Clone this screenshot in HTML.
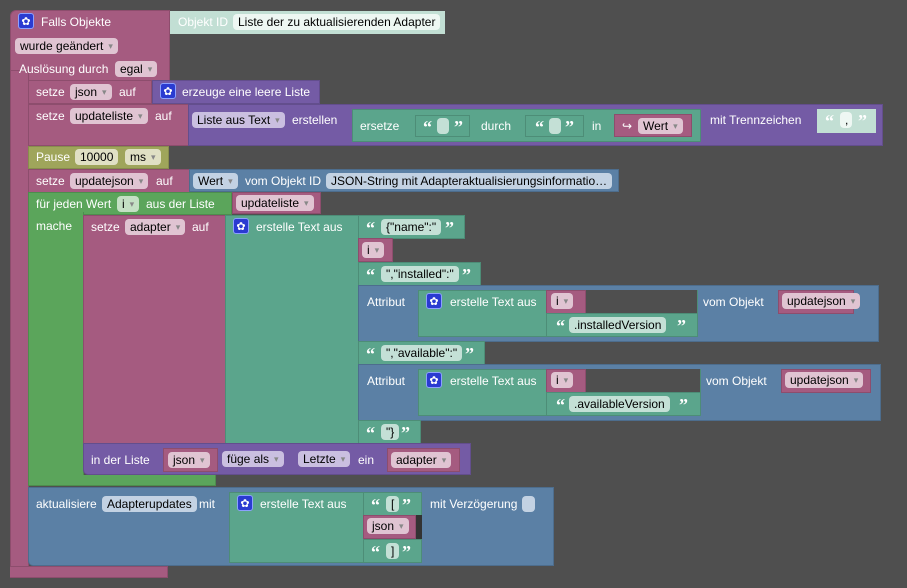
<!DOCTYPE html><html><head><meta charset="utf-8"><style>
body{margin:0;width:907px;height:588px;background:#4f4f4f;position:relative;overflow:hidden;font-family:"Liberation Sans",sans-serif;font-size:12px}
div{position:absolute;box-sizing:border-box}
.m{background:#a55b80;border:1px solid #8d4d6d}
.p{background:#745ba5;border:1px solid #634e8d}
.t{background:#5ba58c;border:1px solid #4d8d77}
.u{background:#5b80a5;border:1px solid #4d6d8d}
.g{background:#5ba55b;border:1px solid #4d8d4d}
.o{background:#9fa55b;border:1px solid #888d4d}
.d{background:#4f4f4f}
.x{color:#fff;white-space:nowrap;line-height:14px;border:none}
.f{color:#000;white-space:nowrap;line-height:16px;height:16px;border-radius:4px;padding:0 5px;border:none}
.fm{background:#e0c4d2}.fp{background:#cabfe0}.ft{background:#c4e0d6}.fu{background:#c3d2e3}.fg{background:#c4e0c4}.fo{background:#e0e0c4}
.ar:after{content:"  ▾";font-size:9px;color:#888;vertical-align:1px;white-space:pre}
.ic{width:16px;height:16px;background:#2a3bd1;border-radius:3px;color:#fff;font-size:11px;line-height:16px;text-align:center;border:1px solid #8ca0ff}
.q{color:#fff;font-weight:bold;font-family:"Liberation Serif",serif;font-size:18px;line-height:16px;border:none}
</style></head><body>
<!-- main event block -->
<div class="m" style="left:10px;top:10px;width:160px;height:71px;border-radius:6px 0 0 0"></div>
<div class="m" style="left:10px;top:70px;width:19px;height:507px;border-radius:0 0 0 6px"></div>
<div class="m" style="left:10px;top:566px;width:158px;height:12px;border-left:none"></div>
<div class="ic" style="left:18px;top:13px">✿</div>
<div class="x" style="left:41px;top:15px">Falls Objekte</div>
<div style="left:170px;top:11px;width:275px;height:23px;background:#c2dfd4"></div>
<div class="x" style="left:178px;top:15px">Objekt ID</div>
<div class="f" style="left:233px;top:14px;background:#eef7f3">Liste der zu aktualisierenden Adapter</div>
<div class="f fm ar" style="left:15px;top:38px">wurde geändert</div>
<div class="x" style="left:19px;top:62px">Auslösung durch</div>
<div class="f fm ar" style="left:115px;top:61px">egal</div>
<!-- setze json -->
<div class="m" style="left:28px;top:80px;width:124px;height:24px"></div>
<div class="x" style="left:36px;top:85px">setze</div>
<div class="f fm ar" style="left:70px;top:84px">json</div>
<div class="x" style="left:119px;top:85px">auf</div>
<div class="p" style="left:152px;top:80px;width:168px;height:24px"></div>
<div class="ic" style="left:160px;top:83px">✿</div>
<div class="x" style="left:182px;top:85px">erzeuge eine leere Liste</div>
<!-- setze updateliste -->
<div class="m" style="left:28px;top:104px;width:162px;height:42px"></div>
<div class="x" style="left:36px;top:109px">setze</div>
<div class="f fm ar" style="left:70px;top:108px">updateliste</div>
<div class="x" style="left:155px;top:109px">auf</div>
<div class="p" style="left:188px;top:104px;width:695px;height:42px"></div>
<div class="f fp ar" style="left:192px;top:112px">Liste aus Text</div>
<div class="x" style="left:292px;top:113px">erstellen</div>
<div class="t" style="left:352px;top:109px;width:349px;height:33px"></div>
<div class="x" style="left:360px;top:119px">ersetze</div>
<div class="t" style="left:415px;top:115px;width:55px;height:22px"></div>
<div class="q" style="left:423px;top:119px">“</div><div class="f ft" style="left:437px;top:118px;width:12px"></div><div class="q" style="left:454px;top:119px">”</div>
<div class="x" style="left:481px;top:119px">durch</div>
<div class="t" style="left:525px;top:115px;width:59px;height:22px"></div>
<div class="q" style="left:535px;top:119px">“</div><div class="f ft" style="left:549px;top:118px;width:12px"></div><div class="q" style="left:565px;top:119px">”</div>
<div class="x" style="left:592px;top:119px">in</div>
<div class="m" style="left:614px;top:114px;width:78px;height:23px"></div>
<div class="x" style="left:622px;top:119px">↪</div>
<div class="f fm ar" style="left:638px;top:118px">Wert</div>
<div class="x" style="left:710px;top:113px">mit Trennzeichen</div>
<div style="left:817px;top:109px;width:59px;height:24px;background:#c2dfd4"></div>
<div class="q" style="left:825px;top:113px">“</div><div class="f" style="left:840px;top:112px;width:12px;background:#eef7f3">,</div><div class="q" style="left:858px;top:113px">”</div>
<!-- pause -->
<div class="o" style="left:28px;top:146px;width:141px;height:23px"></div>
<div class="x" style="left:36px;top:150px">Pause</div>
<div class="f fo" style="left:75px;top:149px">10000</div>
<div class="f fo ar" style="left:125px;top:149px">ms</div>
<!-- setze updatejson -->
<div class="m" style="left:28px;top:169px;width:163px;height:24px"></div>
<div class="x" style="left:36px;top:174px">setze</div>
<div class="f fm ar" style="left:70px;top:173px">updatejson</div>
<div class="x" style="left:156px;top:174px">auf</div>
<div class="u" style="left:189px;top:169px;width:430px;height:23px"></div>
<div class="f fu ar" style="left:193px;top:173px">Wert</div>
<div class="x" style="left:245px;top:174px">vom Objekt ID</div>
<div class="f fu" style="left:326px;top:173px">JSON-String mit Adapteraktualisierungsinformatio…</div>
<!-- for each -->
<div class="g" style="left:28px;top:192px;width:204px;height:23px"></div>
<div class="g" style="left:28px;top:212px;width:56px;height:274px;border-top:none"></div>
<div class="g" style="left:28px;top:475px;width:188px;height:11px;border-top:none"></div>
<div class="x" style="left:36px;top:197px">für jeden Wert</div>
<div class="f fg ar" style="left:117px;top:196px">i</div>
<div class="x" style="left:146px;top:197px">aus der Liste</div>
<div class="m" style="left:232px;top:192px;width:89px;height:22px"></div>
<div class="f fm ar" style="left:236px;top:195px">updateliste</div>
<div class="x" style="left:36px;top:219px">mache</div>
<!-- setze adapter -->
<div class="m" style="left:83px;top:215px;width:143px;height:229px"></div>
<div class="x" style="left:91px;top:220px">setze</div>
<div class="f fm ar" style="left:125px;top:219px">adapter</div>
<div class="x" style="left:192px;top:220px">auf</div>
<div class="t" style="left:225px;top:215px;width:134px;height:229px"></div>
<div class="ic" style="left:233px;top:218px">✿</div>
<div class="x" style="left:256px;top:220px">erstelle Text aus</div>
<div class="t" style="left:358px;top:215px;width:107px;height:24px"></div>
<div class="q" style="left:366px;top:220px">“</div><div class="f ft" style="left:381px;top:219px">{"name":"</div><div class="q" style="left:445px;top:220px">”</div>
<div class="m" style="left:358px;top:238px;width:35px;height:24px"></div>
<div class="f fm ar" style="left:362px;top:242px">i</div>
<div class="t" style="left:358px;top:262px;width:123px;height:24px"></div>
<div class="q" style="left:366px;top:267px">“</div><div class="f ft" style="left:381px;top:266px">","installed":"</div><div class="q" style="left:462px;top:267px">”</div>
<div class="u" style="left:358px;top:285px;width:521px;height:57px"></div>
<div class="x" style="left:367px;top:295px">Attribut</div>
<div class="t" style="left:418px;top:290px;width:280px;height:47px"></div>
<div class="ic" style="left:426px;top:293px">✿</div>
<div class="x" style="left:450px;top:295px">erstelle Text aus</div>
<div class="d" style="left:585px;top:290px;width:112px;height:23px"></div>
<div class="m" style="left:546px;top:290px;width:40px;height:24px"></div>
<div class="f fm ar" style="left:551px;top:293px">i</div>
<div class="t" style="left:546px;top:313px;width:152px;height:24px"></div>
<div class="q" style="left:556px;top:318px">“</div><div class="f ft" style="left:569px;top:317px">.installedVersion</div><div class="q" style="left:677px;top:318px">”</div>
<div class="x" style="left:703px;top:295px">vom Objekt</div>
<div class="m" style="left:778px;top:290px;width:76px;height:24px"></div>
<div class="f fm ar" style="left:782px;top:293px">updatejson</div>
<div class="t" style="left:358px;top:341px;width:127px;height:24px"></div>
<div class="q" style="left:366px;top:346px">“</div><div class="f ft" style="left:381px;top:345px">","available":"</div><div class="q" style="left:465px;top:346px">”</div>
<div class="u" style="left:358px;top:364px;width:523px;height:57px"></div>
<div class="x" style="left:367px;top:374px">Attribut</div>
<div class="t" style="left:418px;top:369px;width:283px;height:47px"></div>
<div class="ic" style="left:426px;top:372px">✿</div>
<div class="x" style="left:450px;top:374px">erstelle Text aus</div>
<div class="d" style="left:585px;top:369px;width:115px;height:23px"></div>
<div class="m" style="left:546px;top:369px;width:40px;height:24px"></div>
<div class="f fm ar" style="left:551px;top:372px">i</div>
<div class="t" style="left:546px;top:392px;width:155px;height:24px"></div>
<div class="q" style="left:556px;top:397px">“</div><div class="f ft" style="left:569px;top:396px">.availableVersion</div><div class="q" style="left:679px;top:397px">”</div>
<div class="x" style="left:706px;top:374px">vom Objekt</div>
<div class="m" style="left:781px;top:369px;width:90px;height:24px"></div>
<div class="f fm ar" style="left:785px;top:372px">updatejson</div>
<div class="t" style="left:358px;top:420px;width:63px;height:24px"></div>
<div class="q" style="left:366px;top:425px">“</div><div class="f ft" style="left:381px;top:424px">"}</div><div class="q" style="left:401px;top:425px">”</div>
<!-- in der Liste -->
<div class="p" style="left:83px;top:443px;width:388px;height:32px;border-radius:0 0 0 5px"></div>
<div class="x" style="left:91px;top:453px">in der Liste</div>
<div class="m" style="left:163px;top:448px;width:55px;height:24px"></div>
<div class="f fm ar" style="left:168px;top:452px">json</div>
<div class="f fp ar" style="left:222px;top:451px">füge als</div>
<div class="f fp ar" style="left:298px;top:451px">Letzte</div>
<div class="x" style="left:358px;top:453px">ein</div>
<div class="m" style="left:387px;top:448px;width:73px;height:24px"></div>
<div class="f fm ar" style="left:391px;top:452px">adapter</div>
<!-- aktualisiere -->
<div class="u" style="left:28px;top:487px;width:526px;height:79px;border-radius:0 0 0 5px"></div>
<div class="x" style="left:36px;top:497px">aktualisiere</div>
<div class="f fu" style="left:102px;top:496px">Adapterupdates</div>
<div class="x" style="left:199px;top:497px">mit</div>
<div class="t" style="left:229px;top:492px;width:193px;height:71px"></div>
<div class="ic" style="left:237px;top:495px">✿</div>
<div class="x" style="left:260px;top:497px">erstelle Text aus</div>
<div class="t" style="left:363px;top:492px;width:59px;height:24px"></div>
<div class="q" style="left:371px;top:497px">“</div><div class="f ft" style="left:386px;top:496px">[</div><div class="q" style="left:402px;top:497px">”</div>
<div class="d" style="left:414px;top:515px;width:8px;height:24px;background:#333"></div>
<div class="m" style="left:363px;top:515px;width:53px;height:24px"></div>
<div class="f fm ar" style="left:367px;top:518px">json</div>
<div class="t" style="left:363px;top:539px;width:59px;height:24px"></div>
<div class="q" style="left:371px;top:544px">“</div><div class="f ft" style="left:386px;top:543px">]</div><div class="q" style="left:402px;top:544px">”</div>
<div class="x" style="left:430px;top:497px">mit Verzögerung</div>
<div class="f fu" style="left:522px;top:496px;width:13px"></div>
</body></html>
